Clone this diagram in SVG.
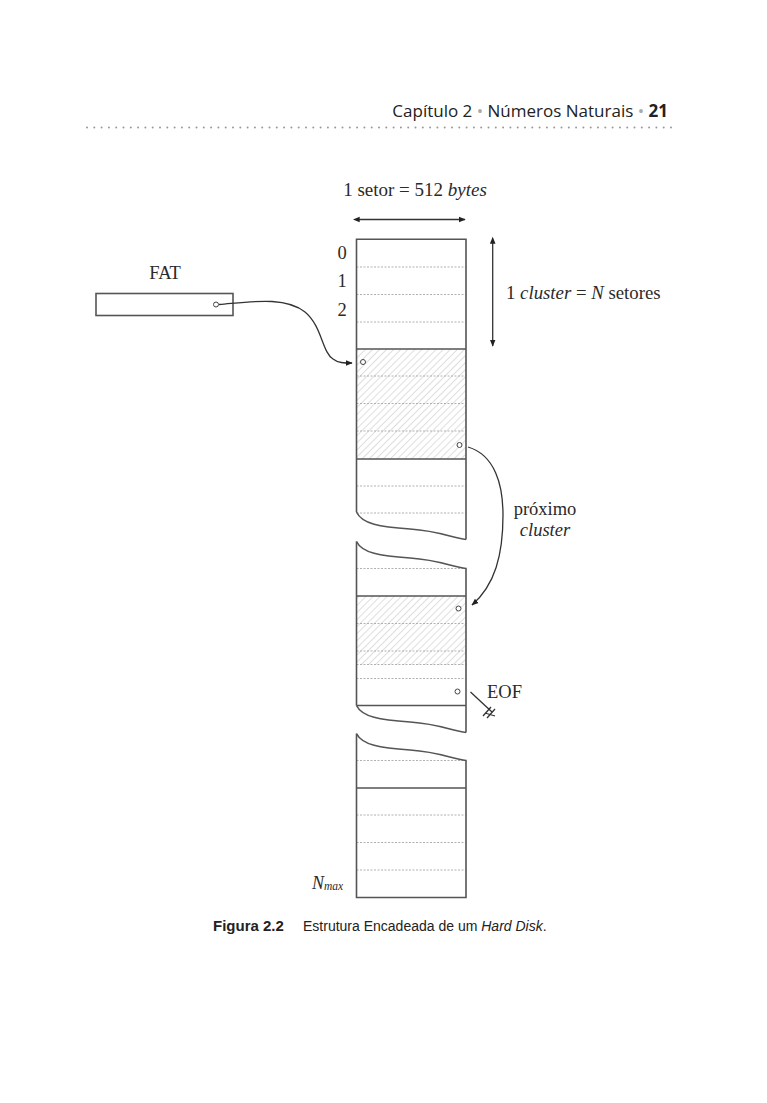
<svg xmlns="http://www.w3.org/2000/svg" width="767" height="1103" viewBox="0 0 767 1103">
<style>
.edge{stroke:#555;stroke-width:1.6;fill:none}
.dash{stroke:#b0b0b0;stroke-width:1;stroke-dasharray:2 1.5;fill:none}
.ser{font-family:"Liberation Serif",serif;fill:#2a2a2a}
.sans{font-family:"Open Sans","Liberation Sans",sans-serif;fill:#222}
.cap{font-family:"Liberation Sans",sans-serif;fill:#222}
.dot{fill:#fff;stroke:#444;stroke-width:1}
.conn{stroke:#333;stroke-width:1.3;fill:none}
</style>
<defs>
<pattern id="hatch" width="5" height="5" patternUnits="userSpaceOnUse" patternTransform="rotate(45)">
<line x1="0" y1="0" x2="0" y2="5" stroke="#bdbdbd" stroke-width="1"/>
</pattern>
<marker id="ah" viewBox="0 0 10 10" refX="9" refY="5" markerWidth="7" markerHeight="7" orient="auto" markerUnits="userSpaceOnUse">
<path d="M0 1 L10 5 L0 9 Z" fill="#222"/>
</marker>
<marker id="ahs" viewBox="0 0 10 10" refX="1" refY="5" markerWidth="7" markerHeight="7" orient="auto-start-reverse" markerUnits="userSpaceOnUse">
<path d="M0 1 L10 5 L0 9 Z" fill="#222"/>
</marker>
</defs>
<rect width="767" height="1103" fill="#fff"/>

<g id="header">
<text class="sans" x="668" y="117" font-size="17" text-anchor="end">Capítulo 2 <tspan fill="#aaa">•</tspan> Números Naturais <tspan fill="#aaa">•</tspan> <tspan font-weight="bold">21</tspan></text>
<line x1="87" y1="127.5" x2="672" y2="127.5" stroke="#999" stroke-width="2" stroke-linecap="round" stroke-dasharray="0 7.3"/>
</g>

<g id="sector-width">
<text class="ser" x="415" y="196" font-size="19" text-anchor="middle">1 setor = 512 <tspan font-style="italic">bytes</tspan></text>
<line x1="359" y1="219.5" x2="465" y2="219.5" class="conn" marker-start="url(#ahs)" marker-end="url(#ah)"/>
</g>

<g id="cluster-height">
<line x1="492.7" y1="243" x2="492.7" y2="346" class="conn" stroke-width="1.6" marker-start="url(#ahs)" marker-end="url(#ah)"/>
<text class="ser" x="506" y="299" font-size="18.8">1 <tspan font-style="italic">cluster</tspan> = <tspan font-style="italic">N</tspan> setores</text>
</g>

<g id="sector-numbers">
<text class="ser" x="342" y="259" font-size="18.5" text-anchor="middle">0</text>
<text class="ser" x="342" y="287" font-size="18.5" text-anchor="middle">1</text>
<text class="ser" x="342" y="316" font-size="18.5" text-anchor="middle">2</text>
</g>

<g id="fat">
<text class="ser" x="165" y="279" font-size="18.5" text-anchor="middle">FAT</text>
<rect x="96" y="293.5" width="137" height="22" class="edge"/>
<circle cx="216" cy="304.5" r="2.5" class="dot"/>
</g>

<g id="segment1">
<rect x="356.5" y="349" width="109.5" height="110" fill="url(#hatch)"/>
<line x1="356.5" y1="267" x2="466" y2="267" class="dash"/>
<line x1="356.5" y1="294.5" x2="466" y2="294.5" class="dash"/>
<line x1="356.5" y1="322" x2="466" y2="322" class="dash"/>
<line x1="356.5" y1="376" x2="466" y2="376" class="dash"/>
<line x1="356.5" y1="403.5" x2="466" y2="403.5" class="dash"/>
<line x1="356.5" y1="431" x2="466" y2="431" class="dash"/>
<line x1="356.5" y1="486" x2="466" y2="486" class="dash"/>
<line x1="356.5" y1="513" x2="466" y2="513" class="dash"/>
<line x1="356.5" y1="349" x2="466" y2="349" class="edge"/>
<line x1="356.5" y1="459" x2="466" y2="459" class="edge"/>
<path d="M356.5 512 L356.5 239.3 L466 239.3 L466 539.5" class="edge"/>
<path d="M356.5 512 C362 524 380 527 410 529 C440 531 452 538 466 539.5" class="edge"/>
<circle cx="363" cy="362" r="2.5" class="dot"/>
<circle cx="459.5" cy="445" r="2.5" class="dot"/>
</g>

<g id="segment2">
<rect x="356.5" y="596" width="109.5" height="69" fill="url(#hatch)"/>
<line x1="356.5" y1="568.5" x2="466" y2="568.5" class="dash"/>
<line x1="356.5" y1="623.5" x2="466" y2="623.5" class="dash"/>
<line x1="356.5" y1="651" x2="466" y2="651" class="dash"/>
<line x1="356.5" y1="664.5" x2="466" y2="664.5" class="dash"/>
<line x1="356.5" y1="678.5" x2="466" y2="678.5" class="dash"/>
<line x1="356.5" y1="596" x2="466" y2="596" class="edge"/>
<line x1="356.5" y1="705.5" x2="466" y2="705.5" class="edge"/>
<path d="M356.5 541.5 C362 553 380 556 410 558 C440 560 452 567 466 568.5 L466 732.5" class="edge"/>
<path d="M356.5 541.5 L356.5 705.5" class="edge"/>
<path d="M356.5 705.5 C362 717 380 720 410 722 C440 724 452 731 466 732.5" class="edge"/>
<circle cx="458.5" cy="608.5" r="2.5" class="dot"/>
<circle cx="457.5" cy="691.5" r="2.5" class="dot"/>
</g>

<g id="segment3">
<line x1="356.5" y1="760.5" x2="466" y2="760.5" class="dash"/>
<line x1="356.5" y1="815" x2="466" y2="815" class="dash"/>
<line x1="356.5" y1="842.5" x2="466" y2="842.5" class="dash"/>
<line x1="356.5" y1="870" x2="466" y2="870" class="dash"/>
<line x1="356.5" y1="788" x2="466" y2="788" class="edge"/>
<path d="M356.5 733.5 C362 745 380 748 410 750 C440 752 452 759 466 760.5 L466 897.5 L356.5 897.5 Z" class="edge"/>
<text class="ser" x="312" y="889" font-size="18" font-style="italic">N<tspan font-size="11.5" dy="1">max</tspan></text>
</g>

<g id="eof">
<text class="ser" x="487" y="698" font-size="18.5">EOF</text>
</g>

<g id="connectors">
<path d="M219 304.5 C250 302 285 296 305 312 C322 326 322 352 333 359 C338 363 344 363 352 363" class="conn" marker-end="url(#ah)"/>
<path d="M468 447 C495 455 503 485 503 515 C503 555 495 585 472 605" class="conn" marker-end="url(#ah)"/>
<path d="M470.5 692 L492 712" class="conn" stroke-width="1"/>
<path d="M483 716 L491 707 M487 718 L495 709 M485 713 L495 716" class="conn" stroke-width="1"/>
<text class="ser" x="545" y="515" font-size="18.5" text-anchor="middle">próximo</text>
<text class="ser" x="545" y="536" font-size="18.5" text-anchor="middle" font-style="italic">cluster</text>
</g>

<g id="caption">
<text class="cap" x="213" y="931" font-size="15" font-weight="bold">Figura 2.2</text>
<text class="cap" x="303" y="931" font-size="14">Estrutura Encadeada de um <tspan font-style="italic">Hard Disk</tspan>.</text>
</g>
</svg>
